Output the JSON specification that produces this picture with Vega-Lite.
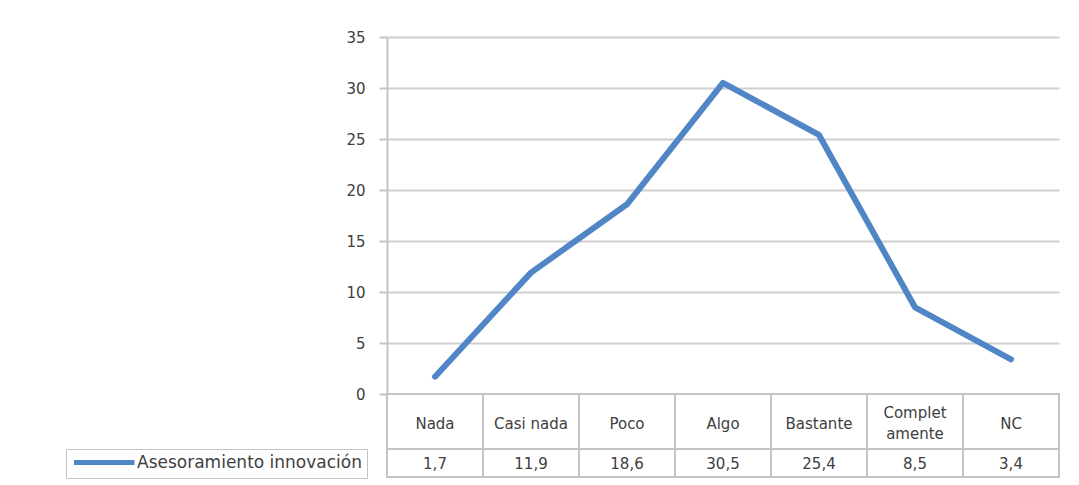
{
  "$schema": "https://vega.github.io/schema/vega-lite/v6.json",
  "padding": {"left": 65, "top": 30, "right": 20, "bottom": 5},
  "config": {
    "locale": {"number": {"decimal": ",", "thousands": ".", "grouping": [3], "currency": ["", " €"]}},
    "view": {"stroke": null},
    "font": "DejaVu Sans"
  },
  "datasets": {
    "d": [
      {"categoria": "Nada", "etiqueta": "Nada", "valor": 1.7, "serie": "Asesoramiento innovación"},
      {"categoria": "Casi nada", "etiqueta": "Casi nada", "valor": 11.9, "serie": "Asesoramiento innovación"},
      {"categoria": "Poco", "etiqueta": "Poco", "valor": 18.6, "serie": "Asesoramiento innovación"},
      {"categoria": "Algo", "etiqueta": "Algo", "valor": 30.5, "serie": "Asesoramiento innovación"},
      {"categoria": "Bastante", "etiqueta": "Bastante", "valor": 25.4, "serie": "Asesoramiento innovación"},
      {"categoria": "Completamente", "etiqueta": "Complet\namente", "valor": 8.5, "serie": "Asesoramiento innovación"},
      {"categoria": "NC", "etiqueta": "NC", "valor": 3.4, "serie": "Asesoramiento innovación"}
    ]
  },
  "bounds": "flush",
  "spacing": 0,
  "resolve": {
    "scale": {"x": "independent", "y": "independent", "color": "independent"},
    "legend": {"color": "independent"}
  },
  "vconcat": [
    {
      "width": 672,
      "height": 357,
      "data": {"name": "d"},
      "mark": {"type": "line", "strokeWidth": 6, "strokeCap": "round", "strokeJoin": "round"},
      "encoding": {
        "x": {
          "field": "categoria", "type": "nominal", "sort": null,
          "scale": {"type": "point", "padding": 0.5},
          "axis": {"labels": false, "ticks": false, "title": null, "grid": false, "domainColor": "#c4c4c4", "domainWidth": 2}
        },
        "y": {
          "field": "valor", "type": "quantitative",
          "scale": {"domain": [0, 35], "nice": false},
          "axis": {
            "values": [0, 5, 10, 15, 20, 25, 30, 35], "title": null,
            "grid": true, "gridColor": "#cfcfcf", "gridWidth": 2,
            "domainColor": "#c4c4c4", "domainWidth": 2,
            "tickColor": "#c4c4c4", "tickWidth": 2, "tickSize": 8,
            "labelPadding": 14, "labelFontSize": 15, "labelColor": "#404040"
          }
        },
        "color": {
          "field": "serie", "type": "nominal",
          "scale": {"range": ["#5086c6"]},
          "legend": {
            "orient": "none", "legendX": -321, "legendY": 412,
            "title": null,
            "symbolType": "M-1,0H10", "symbolSize": 121, "symbolStrokeWidth": 5,
            "labelOffset": 49, "labelFontSize": 17, "labelColor": "#404040", "labelLimit": 400,
            "strokeColor": "#c4c4c4", "padding": 5, "fillColor": "white", "cornerRadius": 0
          }
        }
      }
    },
    {
      "width": 672,
      "height": 55,
      "data": {"name": "d"},
      "encoding": {
        "x": {"field": "categoria", "type": "nominal", "sort": null, "scale": {"type": "band", "paddingInner": 0, "paddingOuter": 0}, "axis": null}
      },
      "layer": [
        {"mark": {"type": "rect", "fill": "white", "stroke": "#c4c4c4", "strokeWidth": 2}},
        {"transform": [{"filter": "indexof(datum.etiqueta, '\\n') < 0"}],
         "mark": {"type": "text", "fontSize": 15, "color": "#404040", "baseline": "middle", "dy": 2},
         "encoding": {"text": {"field": "etiqueta"}}},
        {"transform": [{"filter": "indexof(datum.etiqueta, '\\n') >= 0"}],
         "mark": {"type": "text", "fontSize": 15, "color": "#404040", "lineBreak": "\n", "lineHeight": 21, "baseline": "middle", "dy": -9},
         "encoding": {"text": {"field": "etiqueta"}}}
      ]
    },
    {
      "width": 672,
      "height": 28,
      "data": {"name": "d"},
      "encoding": {
        "x": {"field": "categoria", "type": "nominal", "sort": null, "scale": {"type": "band", "paddingInner": 0, "paddingOuter": 0}, "axis": null}
      },
      "layer": [
        {"mark": {"type": "rect", "fill": "white", "stroke": "#c4c4c4", "strokeWidth": 2}},
        {"mark": {"type": "text", "fontSize": 15, "color": "#404040", "baseline": "middle", "dy": 1},
         "encoding": {"text": {"field": "valor", "type": "quantitative", "format": ".1f"}}}
      ]
    }
  ]
}
